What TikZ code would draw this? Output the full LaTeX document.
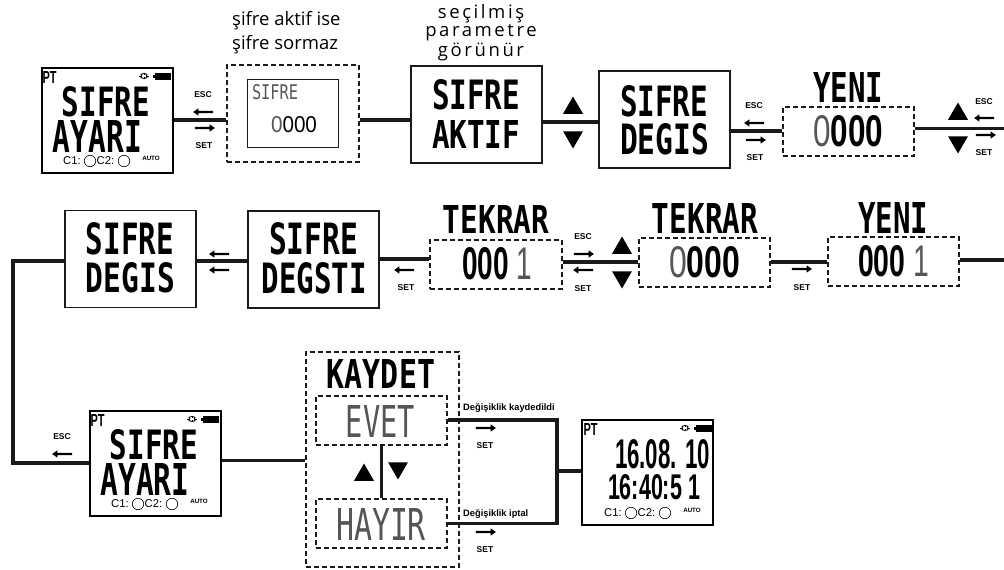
\documentclass[tikz,border=0pt]{standalone}
\usepackage{graphicx}
\usepackage{fontspec}
\usetikzlibrary{shapes.geometric,shapes.arrows}
\setmainfont{Open Sans}
\newfontfamily\lcdfont{DejaVu Sans Mono}
\newfontfamily\digitfont{Liberation Sans}
\newfontfamily\tagfont{Liberation Sans}
\newfontfamily\widefont[LetterSpace=14]{Open Sans}
\definecolor{segment}{HTML}{555555}
\definecolor{frame}{HTML}{1a1a1a}
\newcommand{\lcd}[3]{\resizebox{#1pt}{#2pt}{\lcdfont\bfseries #3}}
\newcommand{\lcdthin}[3]{\resizebox{#1pt}{#2pt}{\color{segment}\lcdfont #3}}
\newcommand{\lcdnum}[3]{\resizebox{#1pt}{#2pt}{\digitfont\bfseries #3}}
\newcommand{\dimzero}{\textcolor{segment}{\mdseries 0}}
\tikzset{
    x=1pt, y=-1pt,
    plain/.style={draw=frame, line width=1.5pt, inner sep=0pt, minimum width=131pt, minimum height=97pt},
    display/.style={draw, line width=2pt, inner sep=0pt, minimum width=131pt, minimum height=105pt},
    dashbox/.style={draw=frame, line width=1.4pt, dash pattern=on 5pt off 3pt, inner sep=0pt},
    link/.style={draw=frame, line width=3.2pt},
    seg/.style={inner sep=0pt},
    captext/.style={inner sep=0pt, font=\fontsize{18.5}{20}\selectfont, anchor=west},
    widecap/.style={inner sep=0pt, font=\fontsize{18.5}{20}\selectfont\widefont},
    tag/.style={inner sep=0pt, font=\fontsize{8.5}{10}\selectfont\tagfont\bfseries},
    note/.style={inner sep=0pt, anchor=west, font=\fontsize{9.3}{11}\selectfont\tagfont\bfseries},
    goleft/.style={single arrow, fill=black, inner sep=1pt, minimum height=20pt, minimum width=7pt, single arrow head extend=2.5pt, single arrow tip angle=70, shape border rotate=180},
    goright/.style={single arrow, fill=black, inner sep=1pt, minimum height=20pt, minimum width=7pt, single arrow head extend=2.5pt, single arrow tip angle=70},
    upmark/.style={regular polygon, regular polygon sides=3, fill=black, inner sep=0pt, minimum size=23pt, yshift=-3pt},
    downmark/.style={regular polygon, regular polygon sides=3, shape border rotate=180, fill=black, inner sep=0pt, minimum size=23pt, yshift=3pt},
    ring/.style={circle, draw, line width=0.6pt, inner sep=0pt, minimum size=11.5pt},
    status/.pic={
        \node[seg] (-pt) at (8.5,10) {\lcdnum{14}{12}{PT}};
        \node[circle, draw, line width=0.7pt, inner sep=0pt, minimum size=5.5pt] (-sun) at (103,9) {};
        \foreach \a in {0,45,...,315} {
            \draw[line width=0.6pt] (-sun.\a) -- ([shift={(\a:1.8)}]-sun.\a);
        }
        \node[fill=black, inner sep=0pt, minimum width=16pt, minimum height=7pt] (-bat) at (122,9.5) {};
        \node[fill=black, inner sep=0pt, minimum width=2pt, minimum height=3.5pt] (-nub) at (113,9.5) {};
        \node[inner sep=0pt, anchor=west, font=\fontsize{11.3}{13}\selectfont\tagfont] (-cone) at (22,94) {C1:};
        \node[ring] (-ringone) at (49,94) {};
        \node[inner sep=0pt, anchor=west, font=\fontsize{11.3}{13}\selectfont\tagfont] (-ctwo) at (55.5,94) {C2:};
        \node[ring] (-ringtwo) at (83,94) {};
        \node[inner sep=0pt, font=\fontsize{6.2}{7}\selectfont\tagfont\bfseries] (-auto) at (110,91) {AUTO};
    },
}
\begin{document}
\begin{tikzpicture}
    \useasboundingbox (0,0) rectangle (1004,570);

    \node[display] (ayar) at (107,120) {};
    \pic (statA) at (41,67) {status};
    \node[seg] (ayarA) at (106,102) {\lcd{88}{30}{SIFRE}};
    \node[seg] (ayarB) at (97.5,136) {\lcd{89}{32}{AYARI}};

    \node[dashbox, minimum width=132pt, minimum height=97pt] (sor) at (293,113.5) {};
    \node[draw=frame, line width=1pt, inner sep=0pt, minimum width=91pt, minimum height=68pt] (sorin) at (292.5,113) {};
    \node[seg] (sorA) at (275,92.5) {\lcdthin{46}{15}{SIFRE}};
    \node[seg] (sorB) at (294,125) {\lcdnum{46}{16}{\dimzero\mdseries 000}};
    \node[captext] (capA) at (232,21) {şifre aktif ise};
    \node[captext] (capB) at (232,45) {şifre sormaz};

    \node[plain] (aktif) at (476.5,114.5) {};
    \node[seg] (aktifA) at (476,95) {\lcd{88}{30}{SIFRE}};
    \node[seg] (aktifB) at (476,134) {\lcd{88}{28}{AKTIF}};
    \node[widecap] (capC) at (481,14) {seçilmiş};
    \node[widecap] (capD) at (481,33) {parametre};
    \node[widecap] (capE) at (481,52) {görünür};

    \node[plain] (degis) at (664.5,119.5) {};
    \node[seg] (degisA) at (664,101) {\lcd{88}{31}{SIFRE}};
    \node[seg] (degisB) at (664.5,139.5) {\lcd{89}{31}{DEGIS}};

    \node[dashbox, minimum width=131pt, minimum height=49pt] (yeniA) at (848.5,131.5) {};
    \node[seg] (yeniAt) at (848,87) {\lcd{70}{30}{YENI}};
    \node[seg] (yeniAn) at (848,131.5) {\lcdnum{70}{31}{\dimzero 000}};
    \coordinate (outA) at (1004,128.5);

    \node[plain] (degisC) at (130.5,259) {};
    \node[seg] (degisCa) at (130,239) {\lcd{88}{32}{SIFRE}};
    \node[seg] (degisCb) at (130.5,278) {\lcd{89}{30}{DEGIS}};

    \node[plain] (degsti) at (313.5,259.5) {};
    \node[seg] (degstiA) at (313.5,239) {\lcd{89}{32}{SIFRE}};
    \node[seg] (degstiB) at (314.5,278.5) {\lcd{105}{31}{DEGSTI}};

    \node[dashbox, minimum width=132pt, minimum height=49pt] (tekA) at (496,264.5) {};
    \node[seg] (tekAt) at (496,219) {\lcd{106}{28}{TEKRAR}};
    \node[seg] (tekAn) at (497,264) {\lcdnum{70}{32}{000 \textcolor{segment}{\mdseries 1}}};

    \node[dashbox, minimum width=131pt, minimum height=49pt] (tekB) at (704.5,262.5) {};
    \node[seg] (tekBt) at (705,218) {\lcd{106}{30}{TEKRAR}};
    \node[seg] (tekBn) at (704.5,262.5) {\lcdnum{71}{31}{\dimzero 000}};

    \node[dashbox, minimum width=131pt, minimum height=49pt] (yeniB) at (893.5,261.5) {};
    \node[seg] (yeniBt) at (893,217.5) {\lcd{70}{31}{YENI}};
    \node[seg] (yeniBn) at (893.5,261.5) {\lcdnum{71}{31}{000 \textcolor{segment}{\mdseries 1}}};
    \coordinate (inB) at (1004,260);
    \coordinate (bendA) at (13,261);
    \coordinate (bendB) at (13,463);

    \node[display] (ayarC) at (155,463) {};
    \pic (statB) at (89,410) {status};
    \node[seg] (ayarCa) at (154,445) {\lcd{88}{30}{SIFRE}};
    \node[seg] (ayarCb) at (145,479) {\lcd{89}{32}{AYARI}};

    \node[dashbox, minimum width=153pt, minimum height=215pt] (kayit) at (382.5,459.5) {};
    \node[seg] (kayitT) at (381,373.5) {\lcd{108}{29}{KAYDET}};
    \node[dashbox, minimum width=131pt, minimum height=49pt] (evet) at (381.5,420.5) {};
    \node[seg] (evetT) at (380.5,421) {\lcdthin{69}{32}{EVET}};
    \node[dashbox, minimum width=131pt, minimum height=49pt] (hayir) at (381.5,523.5) {};
    \node[seg] (hayirT) at (381,524) {\lcdthin{90}{32}{HAYIR}};
    \coordinate (bendC) at (557,420);
    \coordinate (bendD) at (557,523.5);
    \coordinate (joint) at (557,471);

    \node[display] (tarih) at (647.5,472) {};
    \pic (statC) at (582,419) {status};
    \node[seg] (tarihA) at (662.5,454.5) {\lcdnum{95}{29}{16.08. 10}};
    \node[seg] (tarihB) at (654,487.5) {\lcdnum{92}{25}{16:40:5 1}};

    \draw[link] (ayar.east |- 0,120) -- (sor.west |- 0,120);
    \draw[link] (sor.east |- 0,120) -- (aktif.west |- 0,120);
    \draw[link] (aktif.east |- 0,122) -- (degis.west |- 0,122);
    \draw[link] (degis.east |- 0,131) -- (yeniA.west |- 0,131);
    \draw[link] (yeniA.east |- outA) -- (outA);
    \draw[link] (inB) -- (yeniB.east |- inB);
    \draw[link] (yeniB.west |- 0,262) -- (tekB.east |- 0,262);
    \draw[link] (tekB.west |- 0,262) -- (tekA.east |- 0,262);
    \draw[link] (tekA.west |- 0,259) -- (degsti.east |- 0,259);
    \draw[link] (degsti.west |- 0,261) -- (degisC.east |- 0,261);
    \draw[link] (degisC.west |- bendA) -- (bendA) -- (bendB) -- (ayarC.west |- bendB);
    \draw[link] (ayarC.east |- 0,460.5) -- (kayit.west |- 0,460.5);
    \draw[link] (evet.south) -- (hayir.north);
    \draw[link] (evet.east |- bendC) -- (bendC) -- (bendD) -- (hayir.east |- bendD);
    \draw[link] (joint) -- (tarih.west |- joint);

    \node[tag] (escA) at (203,95) {ESC};
    \node[goleft] (arA) at (204,112) {};
    \node[goright] (arB) at (204,128) {};
    \node[tag] (setA) at (204,146) {SET};

    \node[upmark] (upA) at (573,105) {};
    \node[downmark] (downA) at (573,140) {};

    \node[tag] (escB) at (754,106) {ESC};
    \node[goleft] (arC) at (755,123) {};
    \node[goright] (arD) at (755,140) {};
    \node[tag] (setB) at (755,158) {SET};

    \node[upmark] (upB) at (958,111) {};
    \node[downmark] (downB) at (958,145) {};
    \node[tag] (escC) at (984,102) {ESC};
    \node[goleft] (arE) at (985,118) {};
    \node[goright] (arF) at (985,135) {};
    \node[tag] (setC) at (984,153) {SET};

    \node[goright] (arG) at (801,269) {};
    \node[tag] (setD) at (802,288) {SET};

    \node[tag] (escD) at (583,237) {ESC};
    \node[goright] (arH) at (583,254) {};
    \node[goleft] (arI) at (584,270) {};
    \node[tag] (setE) at (583,289) {SET};
    \node[upmark] (upC) at (622,245) {};
    \node[downmark] (downC) at (622,280) {};

    \node[goleft] (arJ) at (405,270) {};
    \node[tag] (setF) at (406,288) {SET};

    \node[goleft] (arK) at (220,254) {};
    \node[goleft] (arL) at (220,270) {};

    \node[tag] (escE) at (62,437) {ESC};
    \node[goleft] (arM) at (63,454) {};

    \node[upmark] (upD) at (364,472) {};
    \node[downmark] (downD) at (398,471) {};

    \node[note] (noteA) at (463,408) {Değişiklik kaydedildi};
    \node[goright] (arN) at (485,428) {};
    \node[tag] (setG) at (485,446) {SET};
    \node[note] (noteB) at (463,514) {Değişiklik iptal};
    \node[goright] (arO) at (485,532) {};
    \node[tag] (setH) at (485,550) {SET};
\end{tikzpicture}
\end{document}
